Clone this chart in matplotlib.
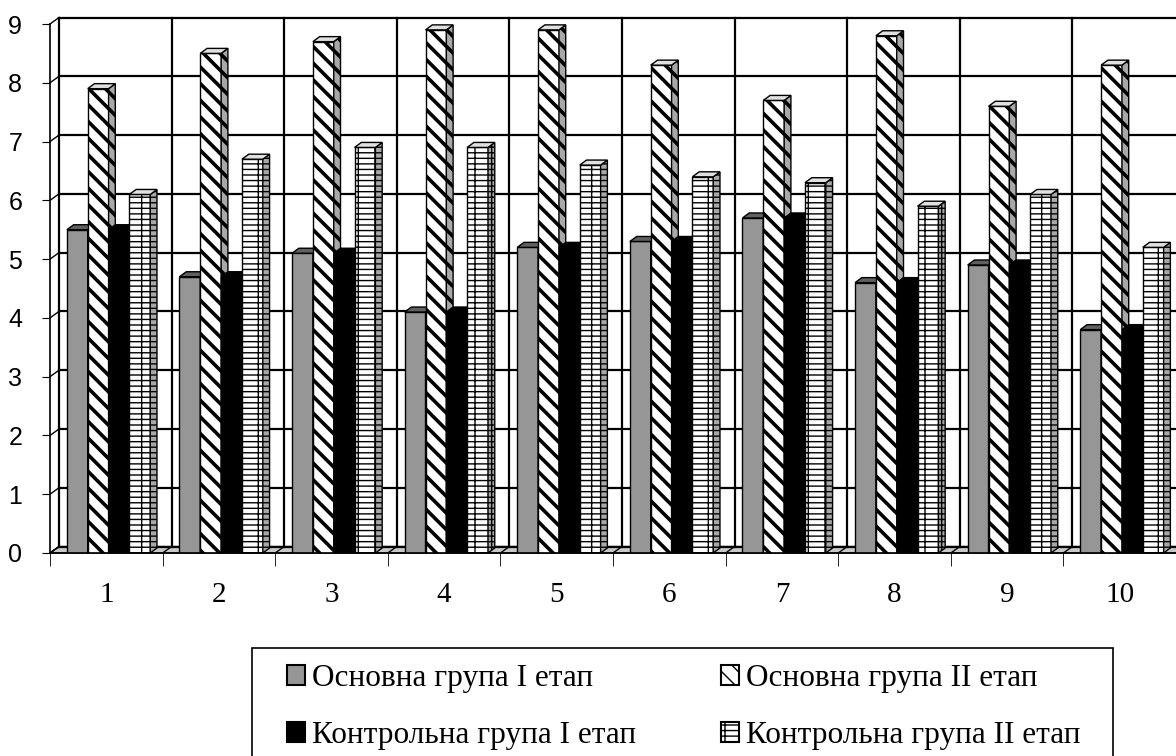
import numpy as np
import matplotlib
matplotlib.use('Agg')
import matplotlib.pyplot as plt
from matplotlib.patches import Polygon, Patch, Rectangle

plt.rcParams['font.family'] = 'Liberation Sans'

categories = ['1', '2', '3', '4', '5', '6', '7', '8', '9', '10']
osn_1 = [5.5, 4.7, 5.1, 4.1, 5.2, 5.3, 5.7, 4.6, 4.9, 3.8]
osn_2 = [7.9, 8.5, 8.7, 8.9, 8.9, 8.3, 7.7, 8.8, 7.6, 8.3]
kon_1 = [5.5, 4.7, 5.1, 4.1, 5.2, 5.3, 5.7, 4.6, 4.9, 3.8]
kon_2 = [6.1, 6.7, 6.9, 6.9, 6.6, 6.4, 6.3, 5.9, 6.1, 5.2]
labels = ['Основна група І етап', 'Основна група ІІ етап',
          'Контрольна група І етап', 'Контрольна група ІІ етап']
yticks = [0, 1, 2, 3, 4, 5, 6, 7, 8, 9]

# look of each series: front, side, top colour, hatch, hatch width
styles = [
    ('#969696', '#7a7a7a', '#606060', '', 1.0),
    ('white', '#a8a8a8', '#e0e0e0', '\\\\', 2.6),
    ('black', 'black', 'black', '', 1.0),
    ('white', '#a8a8a8', '#e0e0e0', '---|', 1.0),
]

W, H = 1176, 756
fig = plt.figure(figsize=(W / 100, H / 100), dpi=100)
ax = fig.add_axes([50 / W, 1 - 553 / H, 1126 / W, 529 / H])
ax.set_xlim(0.5, 10.5)
ax.set_ylim(0, 9)

x = np.arange(1, len(categories) + 1)
w = 0.185
dxb, dyb = 0.06, 0.085   # bar depth
dxw, dyw = 0.08, 0.11    # wall depth

# walls and floor
floor = Polygon([(0.5, 0), (10.5, 0), (10.5 + dxw, dyw), (0.5 + dxw, dyw)],
                closed=True, facecolor='#c8c8c8', edgecolor='black', lw=1,
                zorder=1, clip_on=False)
ax.add_patch(floor)
for b in np.arange(0.5, 11.0, 1.0):
    ax.plot([b, b + dxw], [0, dyw], color='black', lw=1, zorder=1, clip_on=False)
for v in yticks:
    ax.plot([0.5 + dxw, 10.5 + dxw], [v + dyw, v + dyw], color='black', lw=1.6,
            zorder=1, clip_on=False)
    ax.plot([0.5, 0.5 + dxw], [v, v + dyw], color='black', lw=1, zorder=1,
            clip_on=False)
for b in np.arange(0.5, 10.5, 1.0):
    ax.plot([b + dxw, b + dxw], [dyw, 9 + dyw], color='black', lw=1.6,
            zorder=1, clip_on=False)

series = [osn_1, osn_2, kon_1, kon_2]
handles = []
for i, vals in enumerate(series):
    front, side, top, hatch, hlw = styles[i]
    left = x - 0.35 + i * w
    z = 3 + i
    with plt.rc_context({'hatch.linewidth': hlw}):
        ax.bar(left, vals, width=w, align='edge', color=front, edgecolor='black',
               lw=1, hatch=hatch, zorder=z)
        for l, v in zip(left, vals):
            ax.add_patch(Polygon([(l + w, 0), (l + w + dxb, dyb), (l + w + dxb, v + dyb),
                                  (l + w, v)], closed=True, facecolor=side,
                                 edgecolor='black', lw=1, hatch=hatch, zorder=z))
            ax.add_patch(Polygon([(l, v), (l + w, v), (l + w + dxb, v + dyb),
                                  (l + dxb, v + dyb)], closed=True, facecolor=top,
                                 edgecolor='black', lw=1, zorder=z))
        handles.append(Patch(facecolor=front, edgecolor='black', hatch=hatch,
                             lw=1.5, label=labels[i]))

for s in ['top', 'right']:
    ax.spines[s].set_visible(False)
ax.spines['left'].set_linewidth(1.2)
ax.spines['bottom'].set_linewidth(1.2)
ax.spines['left'].set_zorder(10)
ax.spines['bottom'].set_zorder(10)

ax.set_yticks(yticks)
ax.tick_params(axis='y', length=6, pad=14, labelsize=18)

ax.set_xticks(x)
ax.set_xticklabels(categories, fontfamily='Liberation Serif', fontsize=21)
ax.set_xticks(np.arange(0.5, 11.0, 1.0), minor=True)
ax.tick_params(axis='x', which='major', length=0, pad=21)
ax.tick_params(axis='x', which='minor', length=9)

# legend box runs off the bottom edge, as in the original
fig.patches.append(Rectangle((252 / W, -0.05), (1113 - 252) / W, 0.05 + (H - 648) / H,
                             transform=fig.transFigure, facecolor='white',
                             edgecolor='black', lw=1.2, zorder=0))

order = [0, 2, 1, 3]
leg = fig.legend([handles[k] for k in order], [labels[k] for k in order],
                 ncol=2, loc='upper left', bbox_to_anchor=(287 / W, 1 - 664 / H),
                 prop={'family': 'Liberation Serif', 'size': 22.5},
                 frameon=False, handlelength=0.58, handleheight=0.58,
                 handletextpad=0.22, columnspacing=2.72, labelspacing=0.9,
                 borderpad=0, borderaxespad=0)

fig.savefig('out.png', dpi=100)
